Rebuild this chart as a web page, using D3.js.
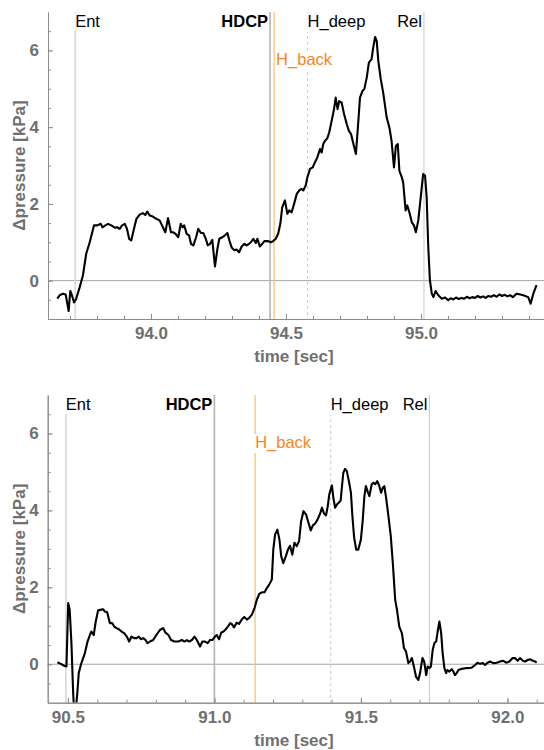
<!DOCTYPE html>
<html>
<head>
<meta charset="utf-8">
<script src="https://cdn.jsdelivr.net/npm/d3@7"></script>
<style>
  body { margin: 0; background: #fff; }
  svg { font-family: "Liberation Sans", Arial, sans-serif; display: block; }
</style>
</head>
<body>
<svg id="chart" width="544" height="750"></svg>
<script>
// ---- data ----
var topTime = [93.653,93.662,93.674,93.684,93.695,93.701,93.707,93.715,93.723,93.736,93.748,93.760,93.773,93.789,93.801,93.814,93.820,93.831,93.841,93.853,93.866,93.874,93.884,93.893,93.903,93.911,93.919,93.927,93.937,93.946,93.958,93.970,93.979,93.986,93.995,94.007,94.020,94.032,94.044,94.053,94.063,94.074,94.083,94.091,94.101,94.110,94.117,94.123,94.132,94.141,94.148,94.157,94.167,94.175,94.185,94.194,94.203,94.210,94.219,94.227,94.237,94.246,94.253,94.264,94.274,94.283,94.290,94.299,94.309,94.317,94.326,94.336,94.346,94.354,94.363,94.370,94.379,94.388,94.394,94.403,94.412,94.420,94.432,94.444,94.453,94.462,94.471,94.479,94.486,94.496,94.505,94.512,94.521,94.530,94.540,94.549,94.558,94.564,94.573,94.579,94.589,94.599,94.607,94.616,94.626,94.632,94.638,94.644,94.653,94.660,94.669,94.678,94.684,94.691,94.697,94.706,94.715,94.725,94.733,94.741,94.747,94.759,94.768,94.774,94.783,94.790,94.799,94.807,94.817,94.823,94.830,94.836,94.842,94.851,94.860,94.873,94.883,94.891,94.900,94.907,94.914,94.920,94.929,94.934,94.943,94.949,94.957,94.966,94.974,94.981,94.990,94.999,95.008,95.015,95.021,95.027,95.033,95.040,95.046,95.054,95.064,95.077,95.089,95.101,95.110,95.120,95.130,95.140,95.150,95.160,95.170,95.180,95.190,95.200,95.210,95.220,95.230,95.240,95.250,95.260,95.270,95.280,95.290,95.300,95.310,95.320,95.330,95.340,95.354,95.368,95.379,95.397,95.406,95.416,95.428];
var topPressure = [-0.47,-0.38,-0.34,-0.36,-0.79,-0.27,-0.38,-0.57,-0.47,-0.17,0.14,0.70,1.00,1.44,1.44,1.48,1.39,1.44,1.48,1.44,1.38,1.39,1.35,1.44,1.48,1.35,1.09,1.05,1.35,1.61,1.72,1.76,1.71,1.80,1.70,1.67,1.61,1.57,1.39,1.26,1.63,1.26,1.26,1.22,1.13,1.48,1.39,1.44,1.22,1.18,0.96,0.92,1.13,1.35,1.24,1.24,1.09,0.92,0.96,1.06,0.37,0.83,1.09,1.13,1.18,1.24,1.05,0.86,0.79,0.81,0.74,0.89,0.96,0.92,0.96,1.00,1.09,0.98,1.09,0.89,0.96,1.03,1.03,1.00,1.03,1.09,1.22,1.48,1.91,2.09,1.74,1.83,1.78,2.00,2.26,2.35,2.39,2.35,2.48,2.69,2.91,2.95,3.08,3.21,3.43,3.34,3.56,3.64,3.71,3.86,4.16,4.47,4.77,4.47,4.68,4.64,4.34,4.08,3.90,3.82,3.64,3.30,4.16,4.77,4.94,4.99,5.29,5.68,5.77,6.07,6.35,6.24,5.72,5.25,4.90,4.25,3.99,3.64,2.95,3.51,3.56,2.86,2.69,2.56,1.83,1.96,1.78,1.52,1.44,1.26,1.57,2.17,2.78,2.74,2.17,0.87,0.01,-0.34,-0.43,-0.27,-0.38,-0.47,-0.44,-0.51,-0.46,-0.49,-0.44,-0.48,-0.45,-0.47,-0.42,-0.46,-0.43,-0.45,-0.40,-0.44,-0.41,-0.45,-0.40,-0.42,-0.38,-0.42,-0.36,-0.40,-0.37,-0.41,-0.38,-0.43,-0.34,-0.36,-0.38,-0.43,-0.60,-0.34,-0.12];

var botTime = [90.464,90.476,90.487,90.495,90.501,90.506,90.512,90.518,90.523,90.532,90.537,90.546,90.558,90.567,90.575,90.580,90.588,90.595,90.603,90.614,90.620,90.626,90.634,90.643,90.651,90.658,90.666,90.674,90.683,90.692,90.701,90.709,90.717,90.726,90.734,90.742,90.749,90.757,90.765,90.771,90.780,90.791,90.802,90.814,90.825,90.833,90.843,90.852,90.863,90.877,90.889,90.898,90.906,90.914,90.923,90.932,90.940,90.951,90.959,90.968,90.977,90.985,90.993,91.002,91.008,91.016,91.023,91.031,91.039,91.046,91.054,91.059,91.067,91.076,91.084,91.094,91.102,91.111,91.118,91.128,91.137,91.145,91.153,91.162,91.171,91.179,91.187,91.196,91.201,91.207,91.215,91.222,91.228,91.235,91.244,91.251,91.258,91.266,91.273,91.281,91.289,91.296,91.304,91.313,91.321,91.329,91.336,91.344,91.352,91.361,91.367,91.374,91.381,91.387,91.392,91.401,91.406,91.412,91.418,91.426,91.431,91.435,91.440,91.446,91.452,91.460,91.466,91.471,91.477,91.484,91.491,91.500,91.506,91.512,91.517,91.524,91.529,91.537,91.543,91.549,91.556,91.563,91.569,91.575,91.580,91.586,91.594,91.602,91.609,91.617,91.623,91.631,91.640,91.647,91.654,91.662,91.668,91.674,91.682,91.688,91.696,91.702,91.710,91.716,91.723,91.728,91.734,91.739,91.745,91.751,91.757,91.762,91.768,91.774,91.779,91.785,91.791,91.795,91.802,91.810,91.816,91.821,91.827,91.833,91.844,91.861,91.878,91.890,91.898,91.907,91.916,91.924,91.932,91.941,91.952,91.964,91.975,91.986,91.996,92.007,92.018,92.026,92.035,92.043,92.053,92.060,92.070,92.077,92.087,92.095,92.100];
var botPressure = [0.05,0.01,-0.04,-0.06,1.59,1.42,0.55,-0.76,-1.5,-0.76,-0.23,0.03,0.29,0.59,0.76,0.85,0.76,1.11,1.40,1.42,1.43,1.37,1.35,1.07,1.07,0.98,0.94,0.91,0.85,0.81,0.72,0.59,0.72,0.68,0.68,0.72,0.65,0.68,0.63,0.55,0.59,0.63,0.76,0.89,0.94,0.82,0.76,0.63,0.59,0.59,0.63,0.59,0.63,0.59,0.63,0.72,0.63,0.46,0.59,0.59,0.55,0.63,0.63,0.72,0.76,0.65,0.82,0.85,0.91,0.98,1.07,1.05,0.96,1.08,1.05,1.17,1.23,1.16,1.20,1.29,1.46,1.68,1.83,1.87,1.87,1.98,2.07,2.20,2.98,3.37,3.50,3.24,2.81,2.63,2.81,2.98,3.08,2.85,3.16,3.07,3.20,3.72,3.98,3.89,3.68,3.48,3.61,3.66,3.76,3.92,4.07,3.92,3.87,4.11,4.41,4.65,4.33,4.07,4.15,4.21,4.26,4.59,4.98,5.08,5.02,4.72,4.46,3.85,3.29,2.98,2.98,3.24,3.72,4.37,4.63,4.47,4.37,4.68,4.72,4.68,4.76,4.63,4.46,4.59,4.63,4.33,3.85,3.33,2.63,1.68,1.42,0.98,0.81,0.42,0.33,0.03,0.07,0.16,-0.10,-0.32,-0.41,-0.23,0.16,0.07,-0.28,-0.06,-0.10,-0.06,0.37,0.55,0.59,0.85,1.11,0.81,0.29,-0.10,-0.23,-0.15,-0.19,-0.13,-0.19,-0.28,-0.23,-0.15,-0.12,-0.10,-0.09,-0.02,0.04,0.01,0.03,-0.02,0.04,0.07,0.03,0.04,0.07,0.09,0.04,0.07,0.16,0.16,0.09,0.16,0.09,0.07,0.11,0.13,0.09,0.07,0.04];

var markerNames = ["Ent", "HDCP", "H_back", "H_deep", "Rel"];
var topMarkerTimes = [93.719, 94.441, 94.456, 94.580, 95.011];
var botMarkerTimes = [90.493, 91.000, 91.139, 91.397, 91.734];

var topXTicks = [94.0, 94.5, 95.0];
var botXTicks = [90.5, 91.0, 91.5, 92.0];
var yTicks = [0, 2, 4, 6];

// ---- drawing ----
var svg = d3.select("#chart");
var labelGrey = "#6f6f6f";
var axisGrey = "#8c8c8c";

// how each marker line / label is drawn
var markerStyle = {
  "Ent":    {stroke: "#d6d6d6", width: 1.5, dash: null,  color: "#000", weight: "normal", anchor: "start", dy: 15},
  "HDCP":   {stroke: "#b4b4b4", width: 1.6, dash: null,  color: "#000", weight: "bold",   anchor: "end",   dy: 15},
  "H_back": {stroke: "#ffbb70", width: 1.2, dash: null,  color: "#f7861c", weight: "normal", anchor: "start", dy: 53},
  "H_deep": {stroke: "#c8c8c8", width: 1,   dash: "3,3", color: "#000", weight: "normal", anchor: "start", dy: 15},
  "Rel":    {stroke: "#cacaca", width: 1,   dash: null,  color: "#000", weight: "normal", anchor: "end",   dy: 15}
};

function drawPanel(p) {
  var x = d3.scaleLinear().domain(p.xDomain).range([p.left, p.right]);
  var y = d3.scaleLinear().domain([-1, 7]).range([p.bottom, p.top]);
  var g = svg.append("g");

  var clipId = "clip" + p.id;
  svg.append("clipPath").attr("id", clipId)
    .append("rect")
    .attr("x", p.left).attr("y", p.top)
    .attr("width", p.right - p.left).attr("height", p.bottom - p.top);

  // zero line
  g.append("line")
    .attr("x1", p.left).attr("x2", p.right)
    .attr("y1", y(0)).attr("y2", y(0))
    .attr("stroke", "#a6a6a6").attr("stroke-width", 1);

  // marker lines
  var mk = g.append("g");
  markerNames.forEach(function(name, i) {
    var s = markerStyle[name];
    mk.append("line")
      .attr("x1", x(p.markers[i])).attr("x2", x(p.markers[i]))
      .attr("y1", p.top).attr("y2", p.bottom)
      .attr("stroke", s.stroke).attr("stroke-width", s.width)
      .attr("stroke-dasharray", s.dash);
  });

  // pressure trace
  var pts = p.time.map(function(t, i) { return [t, p.pressure[i]]; });
  g.append("path")
    .datum(pts)
    .attr("clip-path", "url(#" + clipId + ")")
    .attr("fill", "none")
    .attr("stroke", "#000")
    .attr("stroke-width", 2.1)
    .attr("stroke-linejoin", "round")
    .attr("d", d3.line().x(function(d) { return x(d[0]); }).y(function(d) { return y(d[1]); }));

  // marker labels with white backing (hides the line where they overlap)
  markerNames.forEach(function(name, i) {
    var s = markerStyle[name];
    var off = s.anchor == "start" ? (p.labelShift[name] || 0) : -2;
    var t = g.append("text")
      .attr("x", x(p.markers[i]) + off).attr("y", p.top + s.dy)
      .attr("text-anchor", s.anchor)
      .attr("font-size", 16.5)
      .attr("font-weight", s.weight)
      .attr("fill", s.color)
      .text(name);
    var bb = t.node().getBBox();
    g.insert("rect", function() { return t.node(); })
      .attr("x", bb.x - 1).attr("y", bb.y + 1)
      .attr("width", bb.width + 1).attr("height", bb.height)
      .attr("fill", "#fff");
  });

  // axes
  var xAxis = d3.axisBottom(x).tickValues(p.xTicks).tickFormat(d3.format(".1f")).tickSizeInner(-5).tickSizeOuter(0).tickPadding(8);
  var xMinor = d3.axisBottom(x).tickValues(d3.range(p.minorStart, p.minorEnd, 0.1)).tickFormat("").tickSizeInner(-3).tickSizeOuter(0);
  var yAxis = d3.axisLeft(y).tickValues(yTicks).tickFormat(d3.format("d")).tickSizeInner(-5).tickSizeOuter(0).tickPadding(9);
  var yMinor = d3.axisLeft(y).tickValues(d3.range(-0.5, 7, 0.5)).tickFormat("").tickSizeInner(-3).tickSizeOuter(0);

  [xMinor, xAxis].forEach(function(a) {
    g.append("g").attr("transform", "translate(0," + p.bottom + ")").call(a);
  });
  [yMinor, yAxis].forEach(function(a) {
    g.append("g").attr("transform", "translate(" + p.left + ",0)").call(a);
  });
  g.selectAll(".domain, .tick line").attr("stroke", axisGrey);
  g.selectAll(".tick text")
    .attr("fill", labelGrey)
    .attr("font-size", 17)
    .attr("font-weight", "bold")
    .attr("font-family", "Liberation Sans, Arial, sans-serif");

  // axis titles
  g.append("text")
    .attr("transform", "translate(25," + ((p.top + p.bottom) / 2) + ") rotate(-90)")
    .attr("text-anchor", "middle")
    .attr("font-size", 17).attr("font-weight", "bold")
    .attr("fill", labelGrey)
    .text("Δpressure [kPa]");
  g.append("text")
    .attr("x", 294).attr("y", p.bottom + 43)
    .attr("text-anchor", "middle")
    .attr("font-size", 17).attr("font-weight", "bold")
    .attr("fill", labelGrey)
    .text("time [sec]");
}

drawPanel({
  id: "top", top: 12, bottom: 319, left: 48, right: 544,
  xDomain: [93.6185, 95.4556], xTicks: topXTicks, minorStart: 93.7, minorEnd: 95.45,
  time: topTime, pressure: topPressure, markers: topMarkerTimes,
  labelShift: {"Ent": 0, "H_back": 2, "H_deep": 0}
});
drawPanel({
  id: "bot", top: 395, bottom: 702.7, left: 47.7, right: 544,
  xDomain: [90.431, 92.125], xTicks: botXTicks, minorStart: 90.5, minorEnd: 92.12,
  time: botTime, pressure: botPressure, markers: botMarkerTimes,
  labelShift: {"Ent": 0, "H_back": 0, "H_deep": 0}
});
</script>
</body>
</html>
